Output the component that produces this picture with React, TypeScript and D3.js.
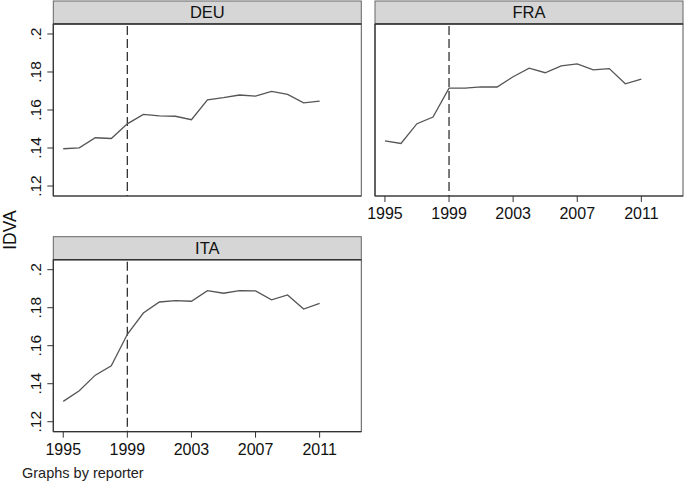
import React from 'react';
import * as d3 from 'd3';

const years = [1995, 1996, 1997, 1998, 1999, 2000, 2001, 2002, 2003, 2004, 2005, 2006, 2007, 2008, 2009, 2010, 2011];
const deuValues = [0.1396, 0.1401, 0.1454, 0.1450, 0.1527, 0.1577, 0.1569, 0.1567, 0.1549, 0.1653, 0.1665, 0.1679, 0.1673, 0.1698, 0.1682, 0.1638, 0.1647];
const fraValues = [0.1438, 0.1424, 0.1528, 0.1563, 0.1715, 0.1715, 0.1722, 0.1721, 0.1775, 0.1820, 0.1796, 0.1832, 0.1843, 0.1811, 0.1818, 0.1738, 0.1763];
const itaValues = [0.1307, 0.1363, 0.1445, 0.1494, 0.1660, 0.1772, 0.1830, 0.1837, 0.1834, 0.1890, 0.1876, 0.1890, 0.1888, 0.1841, 0.1867, 0.1793, 0.1823];
const yTicks = [0.12, 0.14, 0.16, 0.18, 0.2];
const yTickLabels = ['.12', '.14', '.16', '.18', '.2'];
const xTicks = [1995, 1999, 2003, 2007, 2011];
const breakYear = 1999;

const FONT = '"Liberation Sans", Arial, Helvetica, sans-serif';
const panelW = 308;
const headerH = 23;
const plotH = 172;

type PanelProps = {
  name: string;
  values: number[];
  x: number;
  y: number;
  showY: boolean;
  showX: boolean;
};

function Panel({ name, values, x, y, showY, showX }: PanelProps) {
  const top = y + headerH;
  const bottom = top + plotH;
  const xScale = d3.scaleLinear().domain([1994.38, 2013.6]).range([x, x + panelW]);
  const yScale = d3.scaleLinear().domain([0.11475, 0.20525]).range([bottom, top]);
  const line = d3.line<number>()
    .x((d, i) => xScale(years[i]))
    .y(d => yScale(d));

  return (
    <g>
      {/* header strip */}
      <rect x={x} y={y} width={panelW} height={headerH} fill="#d6d6d6" stroke="#666" strokeWidth={1} />
      <text x={x + panelW / 2} y={y + 17} textAnchor="middle" fontSize={16.5} fontFamily={FONT} fill="#111">{name}</text>
      {/* plot frame */}
      <rect x={x} y={top} width={panelW} height={plotH} fill="#fff" stroke="#555" strokeWidth={1} />
      <line x1={x} x2={x + panelW} y1={top} y2={top} stroke="#333" strokeWidth={1.6} />
      <line x1={x} x2={x} y1={top} y2={bottom} stroke="#333" strokeWidth={1.2} />
      <line x1={x} x2={x + panelW} y1={bottom} y2={bottom} stroke="#333" strokeWidth={1.2} />
      {/* break line */}
      <line x1={xScale(breakYear)} x2={xScale(breakYear)} y1={top + 2} y2={bottom}
        stroke="#333" strokeWidth={1.3} strokeDasharray="9,4" />
      <path d={line(values) || ''} fill="none" stroke="#555" strokeWidth={1.3} />
      {showY && yTicks.map((t, i) => (
        <g key={t}>
          <line x1={x - 6} x2={x} y1={yScale(t)} y2={yScale(t)} stroke="#333" strokeWidth={1} />
          <text transform={`translate(${x - 12.5},${yScale(t)}) rotate(-90)`} textAnchor="middle"
            fontSize={15.5} fontFamily={FONT} fill="#111">{yTickLabels[i]}</text>
        </g>
      ))}
      {showX && xTicks.map(t => (
        <g key={t}>
          <line x1={xScale(t)} x2={xScale(t)} y1={bottom} y2={bottom + 6} stroke="#333" strokeWidth={1} />
          <text x={xScale(t)} y={bottom + 23} textAnchor="middle" fontSize={16} fontFamily={FONT} fill="#111">{t}</text>
        </g>
      ))}
    </g>
  );
}

export default function App() {
  return (
    <svg width={685} height={485} style={{ position: 'absolute', left: 0, top: 0, background: '#fff' }}>
      <Panel name="DEU" values={deuValues} x={53.3} y={1} showY={true} showX={false} />
      <Panel name="FRA" values={fraValues} x={375} y={1} showY={false} showX={true} />
      <Panel name="ITA" values={itaValues} x={53.3} y={236.7} showY={true} showX={true} />
      <text transform="translate(16,230) rotate(-90)" textAnchor="middle" fontSize={17.5} fontFamily={FONT} fill="#111">IDVA</text>
      <text x={22} y={478} fontSize={14.5} fontFamily={FONT} fill="#222">Graphs by reporter</text>
    </svg>
  );
}
